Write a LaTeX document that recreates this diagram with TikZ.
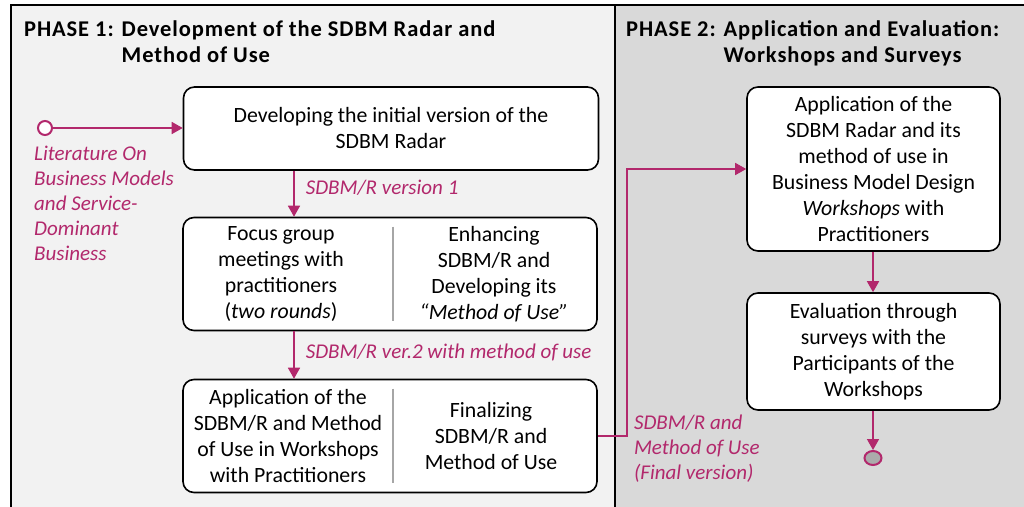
\documentclass[tikz,border=0pt]{standalone}
\usepackage{fontspec}
\setmainfont{Carlito}
\usetikzlibrary{arrows.meta,shapes.geometric}
\definecolor{plum}{RGB}{178,40,108}
\definecolor{paneone}{RGB}{242,242,242}
\definecolor{panetwo}{RGB}{217,217,217}
\tikzset{
	stepbox/.style={draw,line width=1.6pt,rounded corners=11pt,fill=white,inner sep=0pt},
	boxtext/.style={align=center,inner sep=0pt},
	flow/.style={draw=plum,line width=1.6pt,-{Triangle[length=11pt,width=12pt]}},
	note/.style={text=plum,font=\fontsize{21}{25}\selectfont\itshape,align=left,inner sep=0pt},
	divider/.style={draw=black!35,line width=1.5pt},
	phase/.style={font=\fontsize{22.5}{26}\selectfont\bfseries\addfontfeature{LetterSpace=4},inner sep=0pt,anchor=west}
}
\begin{document}
\begin{tikzpicture}[x=1pt,y=-1pt,font=\fontsize{21.8}{26}\selectfont]
	\useasboundingbox (0,0) rectangle (1024,506);
	\fill[paneone] (11,5) rectangle (615,530);
	\fill[panetwo] (615,5) rectangle (1040,530);
	\draw[line width=2pt] (11,530) -- (11,5) -- (1040,5);
	\draw[line width=2pt] (615,5) -- (615,530);

	\node[phase] (head1) at (24,44) {\begin{tabular}{@{}l@{ }l@{}}PHASE 1: & Development of the SDBM Radar and\\ & Method of Use\end{tabular}};
	\node[phase] (head2) at (626,44) {\begin{tabular}{@{}l@{ }l@{}}PHASE 2: & Application and Evaluation:\\ & Workshops and Surveys\end{tabular}};

	\node[stepbox,minimum width=415pt,minimum height=83pt,align=center] (dev) at (391,128.5) {Developing the initial version of the\\SDBM Radar};

	\node[stepbox,minimum width=414pt,minimum height=113pt] (refine) at (390,274) {};
	\node[boxtext] (focus) at ([xshift=-109pt]refine.center) {Focus group\\meetings with\\practitioners\\(\textit{two rounds})};
	\node[boxtext] (enhance) at ([xshift=104pt]refine.center) {Enhancing\\SDBM/R and\\Developing its\\\textit{``Method of Use''}};
	\draw[divider] ([xshift=3pt,yshift=-10pt]refine.north) -- ([xshift=3pt,yshift=10pt]refine.south);

	\node[stepbox,minimum width=414pt,minimum height=113pt] (final) at (390,436) {};
	\node[boxtext] (trial) at ([xshift=-102pt]final.center) {Application of the\\SDBM/R and Method\\of Use in Workshops\\with Practitioners};
	\node[boxtext] (finish) at ([xshift=101pt]final.center) {Finalizing\\SDBM/R and\\Method of Use};
	\draw[divider] ([xshift=3pt,yshift=-10pt]final.north) -- ([xshift=3pt,yshift=10pt]final.south);

	\node[stepbox,minimum width=253pt,minimum height=164pt,align=center] (apply) at (873.5,169) {Application of the\\SDBM Radar and its\\method of use in\\Business Model Design\\\textit{Workshops} with\\Practitioners};
	\node[stepbox,minimum width=253pt,minimum height=117pt,align=center] (survey) at (873.5,351.5) {Evaluation through\\surveys with the\\Participants of the\\Workshops};

	\node[circle,draw=plum,fill=white,line width=2pt,minimum size=14pt,inner sep=0pt] (lit) at (45,128) {};
	\node[note,anchor=west] (litlbl) at (34,203) {Literature On\\Business Models\\and Service-\\Dominant\\Business};
	\node[ellipse,draw=plum,fill=black!33,line width=2pt,minimum width=17pt,minimum height=14pt,inner sep=0pt] (done) at (873,458) {};

	\draw[flow] (lit.east) -- (lit -| dev.west);
	\draw[flow] ([xshift=-97pt]dev.south) -- node[note,right=11pt,yshift=6pt] (v1lbl) {SDBM/R version 1} ([xshift=-97pt]dev.south |- refine.north);
	\draw[flow] ([xshift=-96pt]refine.south) -- node[note,right=11pt,yshift=3pt] (v2lbl) {SDBM/R ver.2 with method of use} ([xshift=-96pt]refine.south |- final.north);
	\coordinate (bend) at ([xshift=29pt]final.east);
	\draw[flow] (final.east) -- (bend) |- (apply.west);
	\node[note,anchor=west] (finlbl) at ([xshift=7pt,yshift=-13pt]bend) {SDBM/R and\\Method of Use\\(Final version)};
	\draw[flow] ([xshift=-0.5pt]apply.south) -- ([xshift=-0.5pt]survey.north);
	\draw[flow] (survey.south -| done) -- (done.north);
\end{tikzpicture}
\end{document}
